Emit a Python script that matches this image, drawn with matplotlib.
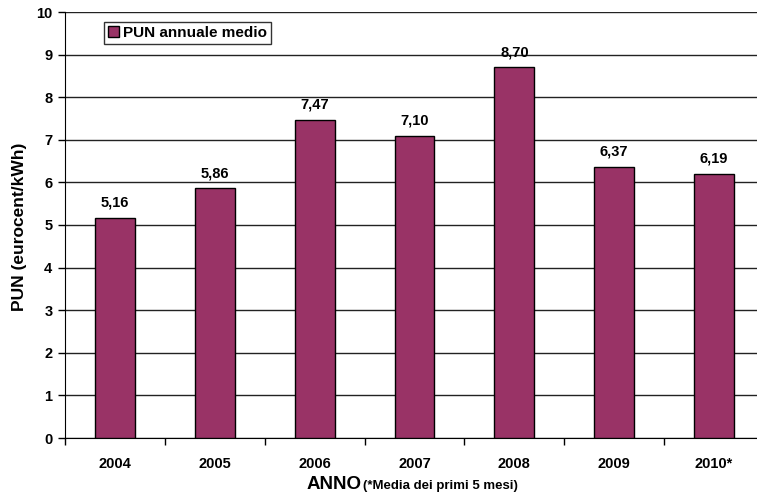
import matplotlib.pyplot as plt
from matplotlib.patches import Patch

plt.rcParams['font.family'] = ['Liberation Sans', 'DejaVu Sans']
plt.rcParams['font.weight'] = 'bold'

anni = ['2004', '2005', '2006', '2007', '2008', '2009', '2010*']
pun = [5.16, 5.86, 7.47, 7.10, 8.70, 6.37, 6.19]
etichette = ['5,16', '5,86', '7,47', '7,10', '8,70', '6,37', '6,19']
colore = '#993366'

fig = plt.figure(figsize=(7.57, 4.97), dpi=100)
# asse che prosegue oltre il bordo destro, come nell'originale
ax = fig.add_axes([65 / 757, (497 - 438) / 497, 699 / 757, 426 / 497])

x = list(range(len(anni)))
ax.bar(x, pun, width=0.4, color=colore, edgecolor='black', linewidth=1, zorder=3)

for xi, v, t in zip(x, pun, etichette):
    ax.annotate(t, (xi, v), xytext=(0, 6), textcoords='offset points',
                ha='center', va='bottom', fontsize=10.5, fontweight='bold')

ax.set_xlim(-0.5, len(anni) - 0.5)
ax.set_ylim(0, 10)
ax.set_yticks(range(0, 11))
ax.set_xticks([i - 0.5 for i in range(len(anni))], minor=False)
ax.set_xticklabels([])
ax.set_xticks(x, minor=True)
ax.set_xticklabels(anni, minor=True, fontsize=10.5, fontweight='bold')
ax.tick_params(axis='x', which='minor', length=0, pad=14)
ax.tick_params(axis='x', which='major', length=5, width=1, direction='out')
ax.tick_params(axis='y', length=5, width=1, labelsize=10.5, pad=4)

ax.yaxis.grid(True, color='#222222', linewidth=1, zorder=0)
ax.spines['top'].set_visible(False)
ax.spines['right'].set_visible(False)

ax.set_ylabel('PUN (eurocent/kWh)', fontsize=12.5, fontweight='bold')
ax.yaxis.set_label_coords(-0.054, 0.495)

fig.text(307 / 757, 1 - 489 / 497, 'ANNO', fontsize=13.5, fontweight='bold',
         ha='left', va='baseline')
fig.text(363 / 757, 1 - 489 / 497, '(*Media dei primi 5 mesi)', fontsize=9.5,
         fontweight='bold', ha='left', va='baseline')

leg = ax.legend(handles=[Patch(facecolor=colore, edgecolor='black', label='PUN annuale medio')],
                loc='upper left', bbox_to_anchor=(39 / 699, 1 - 10 / 426),
                borderaxespad=0, frameon=True, fancybox=False, handlelength=0.7,
                handleheight=0.7, handletextpad=0.3, borderpad=0.25,
                prop={'weight': 'bold', 'size': 11})
leg.get_frame().set_edgecolor('black')
leg.get_frame().set_linewidth(1)

plt.savefig('out.png', dpi=100)
